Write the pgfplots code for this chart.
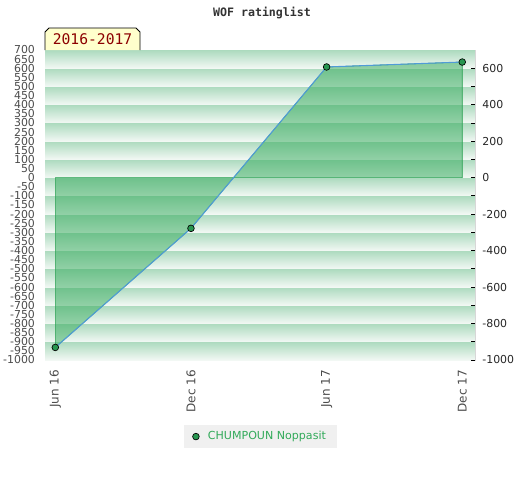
\documentclass[border=0pt]{standalone}
\usepackage{pgfplots}
\pgfplotsset{compat=1.18}
\usepackage{fontspec}
\setmainfont{DejaVu Sans}
\newfontfamily\titlefont{DejaVu Sans Mono}
\definecolor{stripeDark}{RGB}{172,218,190}
\definecolor{stripeLight}{RGB}{242,248,244}
\definecolor{areaFill}{RGB}{50,170,90}
\definecolor{areaEdge}{RGB}{40,160,80}
\definecolor{lineBlue}{RGB}{80,155,215}
\definecolor{markGreen}{RGB}{40,150,80}
\definecolor{legText}{RGB}{50,170,90}
\definecolor{yearRed}{RGB}{140,0,0}
\definecolor{yearFill}{RGB}{255,255,204}
\definecolor{borderGray}{RGB}{215,215,215}
\begin{document}
\begin{tikzpicture}
\begin{axis}[
  at={(33.75pt,90pt)}, anchor=south west,
  scale only axis, width=322.5pt, height=232.5pt,
  xmin=-0.076, xmax=3.094,
  ymin=-1000, ymax=700,
  axis line style={borderGray},
  xtick={0,1,2,3},
  xticklabels={Jun 16,Dec 16,Jun 17,Dec 17},
  x tick label style={rotate=90, anchor=east, font=\fontsize{9pt}{10pt}\selectfont, text=black!70},
  xticklabel shift=4pt,
  xtick style={draw=none},
  ytick={-1000,-950,...,700},
  y tick label style={font=\fontsize{8.2pt}{8.2pt}\selectfont, text=black!70, xshift=-4pt},
  ytick style={draw=none},
  /pgf/number format/assume math mode=true,
  /pgf/number format/1000 sep={},
  legend style={at={(0.501,-0.247)}, anchor=center, fill=black!6, draw=none,
    font=\fontsize{8.3pt}{9pt}\selectfont, text=legText, inner xsep=6.5pt, inner ysep=3pt},
  legend cell align=left,
]
\pgfplotsinvokeforeach{-10,-9,-8,-7,-6,-5,-4,-3,-2,-1,0,1,2,3,4,5,6}{
  \fill[top color=stripeDark, bottom color=stripeLight] (axis cs:-0.076,{#1*100+100}) rectangle (axis cs:3.094,{#1*100});
}
\addplot[draw=areaEdge, fill=areaFill, fill opacity=0.5, forget plot]
  coordinates {(0,0) (0,-931) (1,-278) (2,607) (3,634) (3,0)} -- cycle;
\addplot[draw=lineBlue, line width=0.8pt, mark=*, mark size=2.5pt,
  mark options={fill=markGreen, draw=black, line width=0.5pt},
  legend image code/.code={\path[draw=none, fill=none] (-2.5pt,-2.5pt) rectangle (7pt,2.5pt); \draw[fill=markGreen, draw=black, line width=0.5pt] (0pt,0pt) circle (2.5pt);}]
  coordinates {(0,-931) (1,-278) (2,607) (3,634)};
\addlegendentry{CHUMPOUN Noppasit}
\end{axis}
\begin{axis}[
  at={(33.75pt,90pt)}, anchor=south west,
  scale only axis, width=322.5pt, height=232.5pt,
  xmin=-0.076, xmax=3.094,
  ymin=-1000, ymax=700,
  axis x line=none,
  axis y line*=right,
  axis line style={borderGray},
  ytick={-1000,-800,...,600},
  minor ytick={-900,-700,...,500},
  tick style={black, line width=0.6pt},
  major tick length=3pt, minor tick length=3pt,
  y tick label style={font=\fontsize{8.2pt}{9pt}\selectfont, text=black!85, xshift=2pt},
  /pgf/number format/assume math mode=true,
  /pgf/number format/1000 sep={},
]
\addplot[draw=none] coordinates {(0,0)};
\end{axis}
\node[font=\titlefont\bfseries\fontsize{8.7pt}{9pt}\selectfont, text=black!80] at (196.5pt,350.25pt) {WOF ratinglist};
\filldraw[fill=yearFill, draw=black, line width=0.6pt]
  (33.75pt,322.5pt) -- (33.75pt,336pt) -- (36.75pt,339pt) -- (102pt,339pt) -- (105pt,336pt) -- (105pt,322.5pt);
\node[font=\titlefont\fontsize{11pt}{12pt}\selectfont, text=yearRed] at (69.4pt,330.5pt) {2016-2017};
\pgfresetboundingbox
\useasboundingbox (0,0) rectangle (390pt,360pt);
\end{tikzpicture}
\end{document}
